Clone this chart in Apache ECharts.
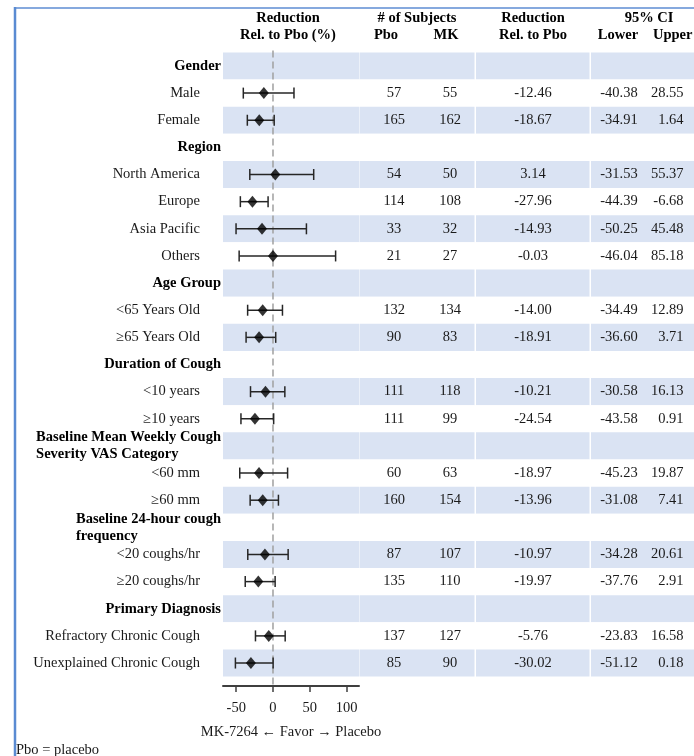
<!DOCTYPE html>
<html>
<head>
<meta charset="utf-8">
<script src="https://cdn.jsdelivr.net/npm/echarts@6/dist/echarts.min.js"></script>
<style>
  html, body { margin: 0; padding: 0; background: #fff; }
  #chart { width: 694px; height: 756px; }
</style>
</head>
<body>
<div id="chart"></div>
<script>
// ---- data ----
const rowLabels = [
  'Gender', 'Male', 'Female',
  'Region', 'North America', 'Europe', 'Asia Pacific', 'Others',
  'Age Group', '<65 Years Old', '≥65 Years Old',
  'Duration of Cough', '<10 years', '≥10 years',
  'Baseline Mean Weekly Cough\nSeverity VAS Category', '<60 mm', '≥60 mm',
  'Baseline 24-hour cough\nfrequency', '<20 coughs/hr', '≥20 coughs/hr',
  'Primary Diagnosis', 'Refractory Chronic Cough', 'Unexplained Chronic Cough'
];
const isHeader = [
  true, false, false,
  true, false, false, false, false,
  true, false, false,
  true, false, false,
  true, false, false,
  true, false, false,
  true, false, false
];
const pboN = [null, 57, 165, null, 54, 114, 33, 21, null, 132, 90, null, 111, 111, null, 60, 160, null, 87, 135, null, 137, 85];
const mkN = [null, 55, 162, null, 50, 108, 32, 27, null, 134, 83, null, 118, 99, null, 63, 154, null, 107, 110, null, 127, 90];
const reduction = [null, -12.46, -18.67, null, 3.14, -27.96, -14.93, -0.03, null, -14.00, -18.91, null, -10.21, -24.54, null, -18.97, -13.96, null, -10.97, -19.97, null, -5.76, -30.02];
const ciLower = [null, -40.38, -34.91, null, -31.53, -44.39, -50.25, -46.04, null, -34.49, -36.60, null, -30.58, -43.58, null, -45.23, -31.08, null, -34.28, -37.76, null, -23.83, -51.12];
const ciUpper = [null, 28.55, 1.64, null, 55.37, -6.68, 45.48, 85.18, null, 12.89, 3.71, null, 16.13, 0.91, null, 19.87, 7.41, null, 20.61, 2.91, null, 16.58, 0.18];
const xTicks = [-50, 0, 50, 100];
const xAxisTitle = 'MK-7264 \u2190 Favor \u2192 Placebo';
const headerLines = [
  'Reduction', 'Rel. to Pbo (%)',
  '# of Subjects', 'Pbo', 'MK',
  'Reduction', 'Rel. to Pbo',
  '95% CI', 'Lower', 'Upper'
];
const footnote = 'Pbo = placebo';

// ---- layout ----
const FONT = '"Liberation Serif", "Times New Roman", serif';
const FS = 14.5;
const BAND = '#dae3f3';
const TOP = 52.4, HEIGHT = 624.2;
const AXIS_OFFSET = 9.5;

// header text placement: [x, y, align]
const headerPos = [
  [288, 18, 'center'], [288, 35, 'center'],
  [417, 18, 'center'], [386, 35, 'center'], [446, 35, 'center'],
  [533, 18, 'center'], [533, 35, 'center'],
  [649, 18, 'center'], [618, 35, 'center'], [653, 35, 'left']
];

// shaded band areas (x ranges)
const bandGrids = [
  { left: 223, width: 136 },   // forest plot
  { left: 359.5, width: 115 },
  { left: 476, width: 113.5 },
  { left: 591, width: 200 }
];

// table columns: center (or right anchor), alignment, value formatting
const columns = [
  { values: pboN, x: 394, align: 'center', fmt: v => String(v) },
  { values: mkN, x: 450, align: 'center', fmt: v => String(v) },
  { values: reduction, x: 533, align: 'center', fmt: v => v.toFixed(2) },
  { values: ciLower, x: 619, align: 'center', fmt: v => v.toFixed(2) },
  { values: ciUpper, x: 693, align: 'right', fmt: v => v.toFixed(2) }
];

const grids = [];
const xAxes = [];
const yAxes = [];
const series = [];

// forest plot grid
grids.push({ left: bandGrids[0].left, top: TOP, width: bandGrids[0].width, height: HEIGHT });
xAxes.push({
  type: 'value', gridIndex: 0, min: -68, max: 117, position: 'bottom', offset: AXIS_OFFSET,
  axisLine: { show: true, lineStyle: { color: '#3f3f3f', width: 2 } },
  axisTick: { show: true, customValues: xTicks, length: 6, lineStyle: { color: '#3f3f3f', width: 1.5 } },
  axisLabel: { show: true, customValues: xTicks, margin: 15, fontFamily: FONT, fontSize: FS, color: '#1a1a1a' },
  splitLine: { show: false },
  name: xAxisTitle, nameLocation: 'middle', nameGap: 39,
  nameTextStyle: { fontFamily: FONT, fontSize: FS, color: '#1a1a1a' }
});
yAxes.push({
  type: 'category', gridIndex: 0, data: rowLabels, inverse: true,
  axisLine: { show: false }, axisTick: { show: false }, splitLine: { show: false },
  splitArea: { show: true, areaStyle: { color: [BAND, '#ffffff'] } },
  axisLabel: {
    show: true, margin: 2, align: 'right',
    formatter: (value, idx) => {
      if (!isHeader[idx]) return '{i|' + value + '}';
      if (value.indexOf('\n') >= 0) return value.split('\n').map(l => '{hl|' + l + '}').join('\n');
      return '{h|' + value + '}';
    },
    rich: {
      h: { fontFamily: FONT, fontSize: FS, fontWeight: 'bold', color: '#000' },
      hl: { fontFamily: FONT, fontSize: FS, fontWeight: 'bold', color: '#000', align: 'left', lineHeight: 17 },
      i: { fontFamily: FONT, fontSize: FS, color: '#1a1a1a', padding: [0, 21, 0, 0] }
    }
  }
});

// band-only grids for the table columns
for (let b = 1; b < bandGrids.length; b++) {
  const gi = grids.length;
  grids.push({ left: bandGrids[b].left, top: TOP, width: bandGrids[b].width, height: HEIGHT });
  xAxes.push({ type: 'value', gridIndex: gi, show: false, splitLine: { show: false } });
  yAxes.push({
    type: 'category', gridIndex: gi, data: rowLabels, inverse: true,
    axisLine: { show: false }, axisTick: { show: false }, axisLabel: { show: false },
    splitLine: { show: false },
    splitArea: { show: true, areaStyle: { color: [BAND, '#ffffff'] } }
  });
}

// text grids, one per table column
columns.forEach(col => {
  const gi = grids.length;
  grids.push({ left: col.x - 20, top: TOP, width: 40, height: HEIGHT });
  xAxes.push({ type: 'category', gridIndex: gi, data: [''], show: false });
  yAxes.push({ type: 'category', gridIndex: gi, data: rowLabels, inverse: true, show: false });
  const data = [];
  const texts = [];
  col.values.forEach((v, i) => {
    if (v !== null) { data.push([0, i]); texts.push(col.fmt(v)); }
  });
  series.push({
    type: 'custom', xAxisIndex: gi, yAxisIndex: gi, silent: true, z: 5,
    data: data,
    renderItem: (params, api) => {
      const p = api.coord([api.value(0), api.value(1)]);
      return {
        type: 'text',
        style: {
          x: p[0], y: p[1], text: texts[params.dataIndex],
          font: FS + 'px ' + FONT, fill: '#1a1a1a',
          align: col.align, verticalAlign: 'middle',
          textAlign: col.align, textVerticalAlign: 'middle'
        }
      };
    }
  });
});

// dashed reference line at zero, running down to the axis line
series.push({
  type: 'custom', xAxisIndex: 0, yAxisIndex: 0, silent: true, z: 2, clip: false,
  data: [[0, 0]],
  renderItem: (params, api) => {
    const x = api.coord([api.value(0), 0])[0];
    const cs = params.coordSys;
    return {
      type: 'line',
      shape: { x1: x, y1: cs.y - 2, x2: x, y2: cs.y + cs.height + AXIS_OFFSET },
      style: { stroke: '#a0a0a0', lineWidth: 1.5, lineDash: [7, 4] }
    };
  }
});

// confidence interval bars with end caps
const ciData = [];
ciLower.forEach((lo, i) => { if (lo !== null) ciData.push([lo, i, ciUpper[i]]); });
series.push({
  type: 'custom', xAxisIndex: 0, yAxisIndex: 0, silent: true, z: 3,
  encode: { x: [0, 2], y: 1 },
  data: ciData,
  renderItem: (params, api) => {
    const row = api.value(1);
    const a = api.coord([api.value(0), row]);
    const b = api.coord([api.value(2), row]);
    const h = 5.5;
    const st = { stroke: '#262626', lineWidth: 1.5 };
    return {
      type: 'group',
      children: [
        { type: 'line', shape: { x1: a[0], y1: a[1], x2: b[0], y2: b[1] }, style: st },
        { type: 'line', shape: { x1: a[0], y1: a[1] - h, x2: a[0], y2: a[1] + h }, style: st },
        { type: 'line', shape: { x1: b[0], y1: b[1] - h, x2: b[0], y2: b[1] + h }, style: st }
      ]
    };
  }
});

// point estimates
const estData = [];
reduction.forEach((v, i) => { if (v !== null) estData.push([v, i]); });
series.push({
  type: 'scatter', xAxisIndex: 0, yAxisIndex: 0, silent: true, z: 4,
  symbol: 'diamond', symbolSize: [10, 12],
  itemStyle: { color: '#000' },
  data: estData
});

// column headers, frame and footnote
const graphics = headerLines.map((t, k) => ({
  type: 'text', x: headerPos[k][0], y: headerPos[k][1], silent: true,
  style: {
    text: t, font: 'bold ' + FS + 'px ' + FONT, fill: '#000',
    align: headerPos[k][2], verticalAlign: 'middle',
    textAlign: headerPos[k][2], textVerticalAlign: 'middle'
  }
}));
graphics.push({
  type: 'line', silent: true,
  shape: { x1: 14, y1: 8, x2: 694, y2: 8 },
  style: { stroke: '#86a9de', lineWidth: 2 }
});
graphics.push({
  type: 'line', silent: true,
  shape: { x1: 15, y1: 7, x2: 15, y2: 756 },
  style: { stroke: '#5a8bd2', lineWidth: 2.5 }
});
graphics.push({
  type: 'text', x: 16, y: 750, silent: true,
  style: { text: footnote, font: FS + 'px ' + FONT, fill: '#1a1a1a', align: 'left', verticalAlign: 'middle', textAlign: 'left', textVerticalAlign: 'middle' }
});

const chart = echarts.init(document.getElementById('chart'), null, { renderer: 'canvas' });
chart.setOption({
  backgroundColor: '#ffffff',
  animation: false,
  grid: grids,
  xAxis: xAxes,
  yAxis: yAxes,
  series: series,
  graphic: graphics
});
</script>
</body>
</html>
